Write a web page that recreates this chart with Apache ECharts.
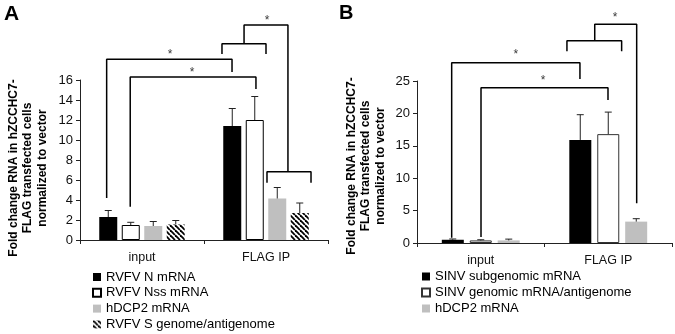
<!DOCTYPE html>
<html>
<head>
<meta charset="utf-8">
<script src="https://cdn.jsdelivr.net/npm/echarts@6/dist/echarts.min.js"></script>
<style>html,body{margin:0;background:#fff}#chart{width:675px;height:334px}</style>
</head>
<body>
<div id="chart"></div>
<script>
// categories
const categories = ['input', 'FLAG IP'];

// panel A values and upper error
const rvfvN = [2.3, 11.4];
const rvfvNErr = [0.65, 1.75];
const rvfvNss = [1.5, 12.0];
const rvfvNssErr = [0.27, 2.35];
const hdcp2A = [1.4, 4.15];
const hdcp2AErr = [0.45, 1.1];
const rvfvS = [1.55, 2.7];
const rvfvSErr = [0.4, 1.0];

// panel B values and upper error
const sinvSub = [0.5, 15.9];
const sinvSubErr = [0.12, 3.9];
const sinvGen = [0.4, 16.8];
const sinvGenErr = [0.1, 3.4];
const hdcp2B = [0.4, 3.3];
const hdcp2BErr = [0.2, 0.45];

// significance brackets (x in category units 0..2, y in axis units)
const bracketsA = [
  [[0.215, 4.2], [0.215, 18.07], [1.226, 18.07], [1.226, 16.8]],
  [[0.405, 3.33], [0.405, 16.3], [1.419, 16.3], [1.419, 15.1]],
  [[1.145, 18.6], [1.145, 19.63], [1.5, 19.63], [1.5, 18.6]],
  [[1.323, 19.63], [1.323, 21.5], [1.677, 21.5], [1.677, 6.83]],
  [[1.508, 5.73], [1.508, 6.83], [1.863, 6.83], [1.863, 5.73]]
];
const starsA = [[0.726, 18.8], [0.903, 17.0], [1.508, 22.2]];
const bracketsB = [
  [[0.272, 0.82], [0.272, 27.8], [1.278, 27.8], [1.278, 25.3]],
  [[0.502, 0.93], [0.502, 23.97], [1.498, 23.97], [1.498, 22.07]],
  [[1.176, 29.6], [1.176, 31.2], [1.605, 31.2], [1.605, 29.6]],
  [[1.394, 31.2], [1.394, 33.75], [1.723, 33.75], [1.723, 6.13]]
];
const starsB = [[0.776, 29.5], [0.988, 25.5], [1.553, 35.3]];

const FONT = 'Liberation Sans, Arial, sans-serif';
const AXIS_COLOR = '#222';
const GRAY = '#bfbfbf';

// hatch pattern for RVFV S
function makeHatch() {
  const s = 5;
  const c = document.createElement('canvas');
  c.width = s; c.height = s;
  const ctx = c.getContext('2d');
  ctx.fillStyle = '#fff';
  ctx.fillRect(0, 0, s, s);
  ctx.strokeStyle = '#000';
  ctx.lineWidth = 1.8;
  for (let k = -1; k <= 1; k++) {
    ctx.beginPath();
    ctx.moveTo(k * s, 0);
    ctx.lineTo(k * s + s, s);
    ctx.stroke();
  }
  return { image: c, repeat: 'repeat' };
}
const hatch = makeHatch();

function barSeries(name, data, g, itemStyle, barWidth, barGap) {
  return {
    name: name, type: 'bar', xAxisIndex: g * 2, yAxisIndex: g,
    data: data, barWidth: barWidth, barGap: barGap,
    itemStyle: itemStyle, silent: true
  };
}

function errSeries(vals, errs, g, offset) {
  return {
    type: 'custom', xAxisIndex: g * 2, yAxisIndex: g, z: 5, silent: true, clip: false,
    data: vals.map((v, i) => [i, v, errs[i]]),
    encode: { x: 0, y: 1 },
    renderItem: function (params, api) {
      const base = api.coord([api.value(0), api.value(1)]);
      const top = api.coord([api.value(0), api.value(1) + api.value(2)]);
      const x = base[0] + offset;
      return {
        type: 'group',
        children: [
          { type: 'line', shape: { x1: x, y1: base[1], x2: x, y2: top[1] }, style: { stroke: '#222', lineWidth: 1 } },
          { type: 'line', shape: { x1: x - 3.5, y1: top[1], x2: x + 3.5, y2: top[1] }, style: { stroke: '#222', lineWidth: 1 } }
        ]
      };
    }
  };
}

function bracketSeries(list, g) {
  return list.map(pts => ({
    type: 'line', xAxisIndex: g * 2 + 1, yAxisIndex: g, data: pts,
    symbol: 'none', clip: false, silent: true, z: 6,
    lineStyle: { color: '#000', width: 1.5 }
  }));
}

function starSeries(list, g) {
  return {
    type: 'scatter', xAxisIndex: g * 2 + 1, yAxisIndex: g, data: list,
    symbolSize: 1, clip: false, silent: true, z: 7,
    itemStyle: { color: 'rgba(0,0,0,0)' },
    label: { show: true, position: 'inside', formatter: '*', fontSize: 12, color: '#000', fontFamily: FONT, offset: [0, 3] }
  };
}

function catAxis(g) {
  return {
    type: 'category', gridIndex: g, data: categories,
    axisLine: { lineStyle: { color: AXIS_COLOR, width: 1 } },
    axisTick: { show: true, length: 4, lineStyle: { color: AXIS_COLOR } },
    axisLabel: { color: '#111', fontSize: 12.5, margin: 11, fontFamily: FONT }
  };
}
function hiddenX(g) {
  return { type: 'value', gridIndex: g, min: 0, max: 2, show: false };
}
function valAxis(g, max, interval) {
  return {
    type: 'value', gridIndex: g, min: 0, max: max, interval: interval,
    axisLine: { show: true, lineStyle: { color: AXIS_COLOR, width: 1 } },
    axisTick: { show: true, length: 4, lineStyle: { color: AXIS_COLOR } },
    axisLabel: { color: '#111', fontSize: 13, margin: 7, fontFamily: FONT },
    splitLine: { show: false }
  };
}

const yTitle = 'Fold change RNA in hZCCHC7-\nFLAG transfected cells\nnormalized to vector';

const legendText = { fontSize: 13, color: '#000', fontFamily: FONT, lineHeight: 13 };

const option = {
  animation: false,
  backgroundColor: '#fff',
  grid: [
    { left: 80, right: 347, top: 80, bottom: 94 },
    { left: 417, right: 3, top: 81, bottom: 91 }
  ],
  xAxis: [catAxis(0), hiddenX(0), catAxis(1), hiddenX(1)],
  yAxis: [valAxis(0, 16, 2), valAxis(1, 25, 5)],
  legend: [
    {
      orient: 'vertical', left: 92, top: 270.5, padding: 0, itemWidth: 8, itemHeight: 8, itemGap: 2.8,
      icon: 'rect', selectedMode: false, textStyle: legendText,
      data: ['RVFV N mRNA', 'RVFV Nss mRNA', 'hDCP2 mRNA', 'RVFV S genome/antigenome']
    },
    {
      orient: 'vertical', left: 421, top: 270, padding: 0, itemWidth: 8, itemHeight: 8, itemGap: 3,
      icon: 'rect', selectedMode: false, textStyle: legendText,
      data: ['SINV subgenomic mRNA', 'SINV genomic mRNA/antigenome', 'hDCP2 mRNA']
    }
  ],
  graphic: [
    { type: 'text', left: 4, top: 4, style: { text: 'A', fontSize: 21, fontWeight: 'bold', fontFamily: FONT, fill: '#000' } },
    { type: 'text', left: 339, top: 3, style: { text: 'B', fontSize: 20, fontWeight: 'bold', fontFamily: FONT, fill: '#000' } },
    {
      type: 'text', x: 28, y: 168, rotation: Math.PI / 2,
      style: { text: yTitle, fontSize: 12, fontWeight: 'bold', fontFamily: FONT, fill: '#000', align: 'center', verticalAlign: 'middle', lineHeight: 14.5 }
    },
    {
      type: 'text', x: 366, y: 166, rotation: Math.PI / 2,
      style: { text: yTitle, fontSize: 12, fontWeight: 'bold', fontFamily: FONT, fill: '#000', align: 'center', verticalAlign: 'middle', lineHeight: 14.5 }
    }
  ],
  series: [
    barSeries('RVFV N mRNA', rvfvN, 0, { color: '#000' }, 18, '25%'),
    barSeries('RVFV Nss mRNA', rvfvNss, 0, { color: '#fff', borderColor: '#000', borderWidth: 1 }, 18, '25%'),
    barSeries('hDCP2 mRNA', hdcp2A, 0, { color: GRAY }, 18, '25%'),
    barSeries('RVFV S genome/antigenome', rvfvS, 0, { color: hatch }, 18, '25%'),
    errSeries(rvfvN, rvfvNErr, 0, -33.75),
    errSeries(rvfvNss, rvfvNssErr, 0, -11.25),
    errSeries(hdcp2A, hdcp2AErr, 0, 11.25),
    errSeries(rvfvS, rvfvSErr, 0, 33.75),
    barSeries('SINV subgenomic mRNA', sinvSub, 1, { color: '#000' }, 22, '27%'),
    barSeries('SINV genomic mRNA/antigenome', sinvGen, 1, { color: '#fff', borderColor: '#333', borderWidth: 1 }, 22, '27%'),
    barSeries('hDCP2 mRNA', hdcp2B, 1, { color: GRAY }, 22, '27%'),
    errSeries(sinvSub, sinvSubErr, 1, -28),
    errSeries(sinvGen, sinvGenErr, 1, 0),
    errSeries(hdcp2B, hdcp2BErr, 1, 28)
  ].concat(bracketSeries(bracketsA, 0), bracketSeries(bracketsB, 1), [starSeries(starsA, 0), starSeries(starsB, 1)])
};

const chart = echarts.init(document.getElementById('chart'), null, { renderer: 'canvas' });
chart.setOption(option);
</script>
</body>
</html>
